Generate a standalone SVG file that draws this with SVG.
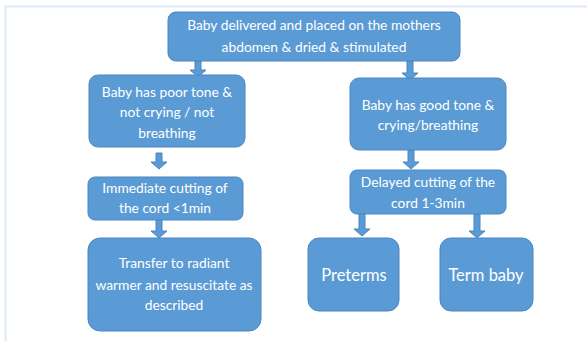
<svg xmlns="http://www.w3.org/2000/svg" width="587" height="341" viewBox="0 0 587 341">
<style>
.box{fill:#5b9bd5;stroke:#4a86c0;stroke-width:1}
.t{font-family:Lato,"Open Sans",sans-serif;font-size:13.8px;fill:#ffffff;text-anchor:middle}
.tl{font-family:Lato,"Open Sans",sans-serif;font-size:16.5px;fill:#ffffff;text-anchor:middle}
.arr{fill:#5b9bd5;stroke:#4a86c0;stroke-width:1}
</style>
<rect x="0" y="0" width="587" height="341" fill="#ffffff"/>
<path d="M5.5,341 V6.5 H587" fill="none" stroke="#dde9f8" stroke-width="2"/>
<g id="connectors">
<path class="arr" d="M195,61 h6 v9 h5 l-8,7 l-8,-7 h5 z"/>
<path class="arr" d="M407,61 h6 v12 h5 l-8,7 l-8,-7 h5 z"/>
<path class="arr" d="M156,153 h6 v9 h5 l-8,7 l-8,-7 h5 z"/>
<path class="arr" d="M408,150 h6 v12 h5 l-8,7 l-8,-7 h5 z"/>
<path class="arr" d="M156,220 h6 v11 h5 l-8,7 l-8,-7 h5 z"/>
<path class="arr" d="M359,214 h6 v15 h5 l-8,7 l-8,-7 h5 z"/>
<path class="arr" d="M474,214 h6 v17 h5 l-8,7 l-8,-7 h5 z"/>
</g>
<g id="start">
<rect class="box" x="168" y="12" width="292" height="49" rx="8"/>
<text class="t" x="314" y="30">Baby delivered and placed on the mothers</text>
<text class="t" x="314" y="52">abdomen &amp; dried &amp; stimulated</text>
</g>
<g id="poor">
<rect class="box" x="89" y="75" width="156" height="72" rx="9"/>
<text class="t" x="167" y="97">Baby has poor tone &amp;</text>
<text class="t" x="167" y="117">not crying / not</text>
<text class="t" x="167" y="138">breathing</text>
</g>
<g id="immediate">
<rect class="box" x="88" y="177" width="155" height="43" rx="7"/>
<text class="t" x="165" y="193">Immediate cutting of</text>
<text class="t" x="165" y="213">the cord &lt;1min</text>
</g>
<g id="transfer">
<rect class="box" x="88" y="238" width="173" height="93" rx="12"/>
<text class="t" x="174" y="268">Transfer to radiant</text>
<text class="t" x="174" y="290">warmer and resuscitate as</text>
<text class="t" x="174" y="310">described</text>
</g>
<g id="good">
<rect class="box" x="350" y="78" width="156" height="72" rx="9"/>
<text class="t" x="428" y="110">Baby has good tone &amp;</text>
<text class="t" x="428" y="130">crying/breathing</text>
</g>
<g id="delayed">
<rect class="box" x="350" y="170" width="156" height="44" rx="7"/>
<text class="t" x="428" y="187">Delayed cutting of the</text>
<text class="t" x="428" y="208">cord 1-3min</text>
</g>
<g id="preterms">
<rect class="box" x="308" y="238" width="91" height="73" rx="11"/>
<text class="tl" x="354" y="281">Preterms</text>
</g>
<g id="term">
<rect class="box" x="440" y="238" width="93" height="73" rx="11"/>
<text class="tl" x="486" y="281">Term baby</text>
</g>
</svg>
